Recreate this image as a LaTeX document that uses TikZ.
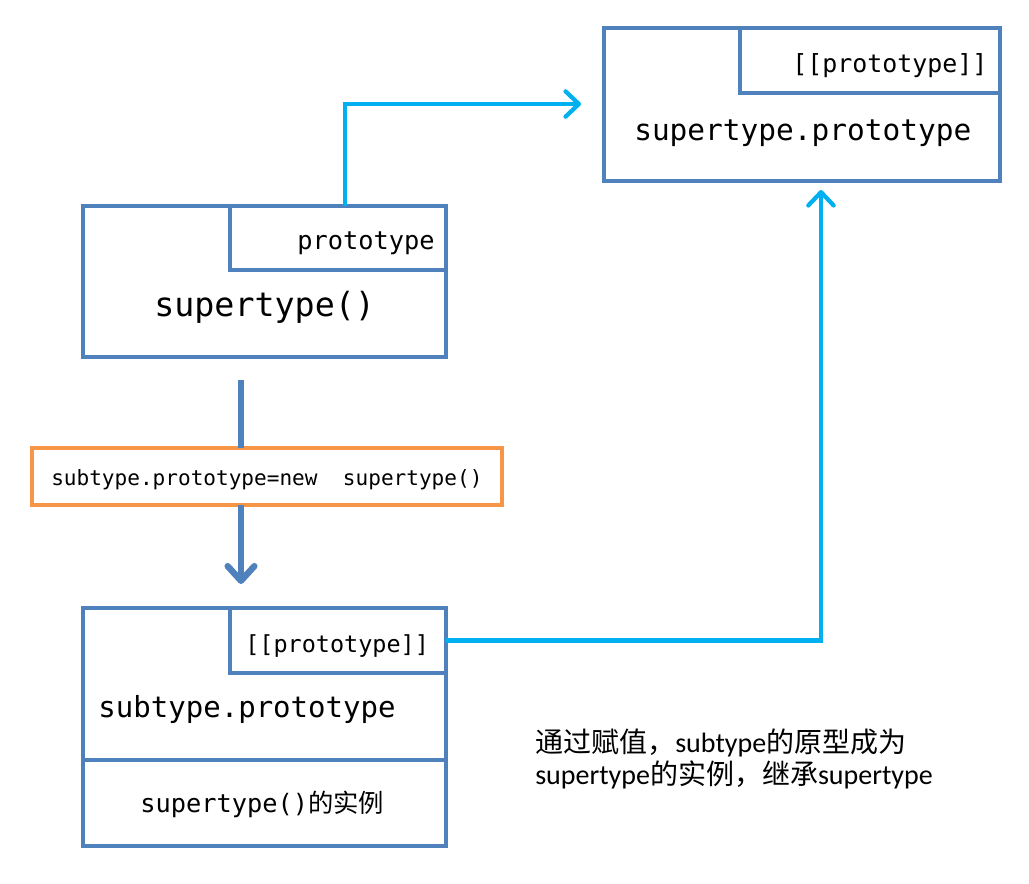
\documentclass[tikz,border=0pt]{standalone}
\usepackage{fontspec}
\setmainfont{Carlito}
\setmonofont{DejaVu Sans Mono}
\newfontfamily\cjk{Noto Sans CJK SC}
\usetikzlibrary{arrows.meta}
\definecolor{boxblue}{HTML}{4F81BD}
\definecolor{linkcyan}{HTML}{00B0F0}
\definecolor{noteorange}{HTML}{F79646}
\tikzset{
  frame/.style={draw=boxblue, line width=2.6pt, inner sep=0pt, outer sep=0pt, rectangle, anchor=center},
  lbl/.style={inner sep=0pt, anchor=base west, font=\ttfamily},
  link/.style={draw=linkcyan, line width=3.2pt, -{Straight Barb[length=10pt, width=19pt, line cap=round, line join=round]}},
  flow/.style={draw=boxblue, line width=4.8pt}
}
\begin{document}
\begin{tikzpicture}[x=0.75pt, y=-0.75pt]
\useasboundingbox (0,0) rectangle (1029,883);
% boxes
\node[frame, minimum width=297pt, minimum height=114.75pt] (A) at (802,104.5) {};
\node[frame, minimum width=195pt, minimum height=48.75pt] (Ain) at (870,60.5) {};
\node[frame, minimum width=272.25pt, minimum height=113.25pt] (B) at (264.5,281.5) {};
\node[frame, minimum width=162pt, minimum height=48pt] (Bin) at (338,238) {};
\node[frame, minimum width=272.25pt, minimum height=178.5pt] (C) at (264.5,727) {};
\node[frame, minimum width=162pt, minimum height=48.75pt] (Cin) at (338,640.5) {};
\draw[boxblue, line width=2.6pt] (C.west |- 0,760) -- (C.east |- 0,760);
% labels
\node[lbl, font=\ttfamily\fontsize{18.7}{22}\selectfont] (tA1) at (792,72) {[[prototype]]};
\node[lbl, font=\ttfamily\fontsize{22.1}{26}\selectfont] (tA2) at (634,140) {supertype.prototype};
\node[lbl, font=\ttfamily\fontsize{19}{22}\selectfont] (tB1) at (297,249) {prototype};
\node[lbl, font=\ttfamily\fontsize{25}{28}\selectfont] (tB2) at (154,316) {supertype()};
\node[lbl, font=\ttfamily\fontsize{17.6}{21}\selectfont] (tC1) at (245,652) {[[prototype]]};
\node[lbl, font=\ttfamily\fontsize{21.8}{26}\selectfont] (tC2) at (98,717) {subtype.prototype};
\node[lbl, font=\ttfamily\fontsize{19}{22}\selectfont] (tC3) at (140,812) {supertype(){\cjk 的实例}};
% flow arrow with orange note
\coordinate (b0) at (241,380);
\coordinate (b1) at (241,584);
\node[draw=noteorange, line width=2.4pt, inner sep=0pt, outer sep=0pt, minimum width=352.5pt, minimum height=42.75pt, fill=white] (O) at (267,476.5) {};
\draw[flow] (b0) -- (O.north -| b0);
\draw[flow, -{Straight Barb[length=11pt, width=20pt, line cap=round, line join=round]}] (O.south -| b0) -- (b1);
\node[lbl, font=\ttfamily\fontsize{15.8}{19}\selectfont] (tO) at (51,485) {subtype.prototype=new\ \ supertype()};
% cyan links
\coordinate (k1) at (345,104);
\coordinate (k1end) at (581,104);
\draw[link] (B.north -| k1) |- (k1end);
\coordinate (k2end) at (821,190);
\draw[link] (Cin.east) -| (k2end);
% note
\node[inner sep=0pt, anchor=base west, font=\fontsize{21}{24}\selectfont] (n1) at (535,752) {{\cjk 通过赋值，}subtype{\cjk 的原型成为}};
\node[inner sep=0pt, anchor=base west, font=\fontsize{21}{24}\selectfont] (n2) at (535,784) {supertype{\cjk 的实例，继承}supertype};
\end{tikzpicture}
\end{document}
